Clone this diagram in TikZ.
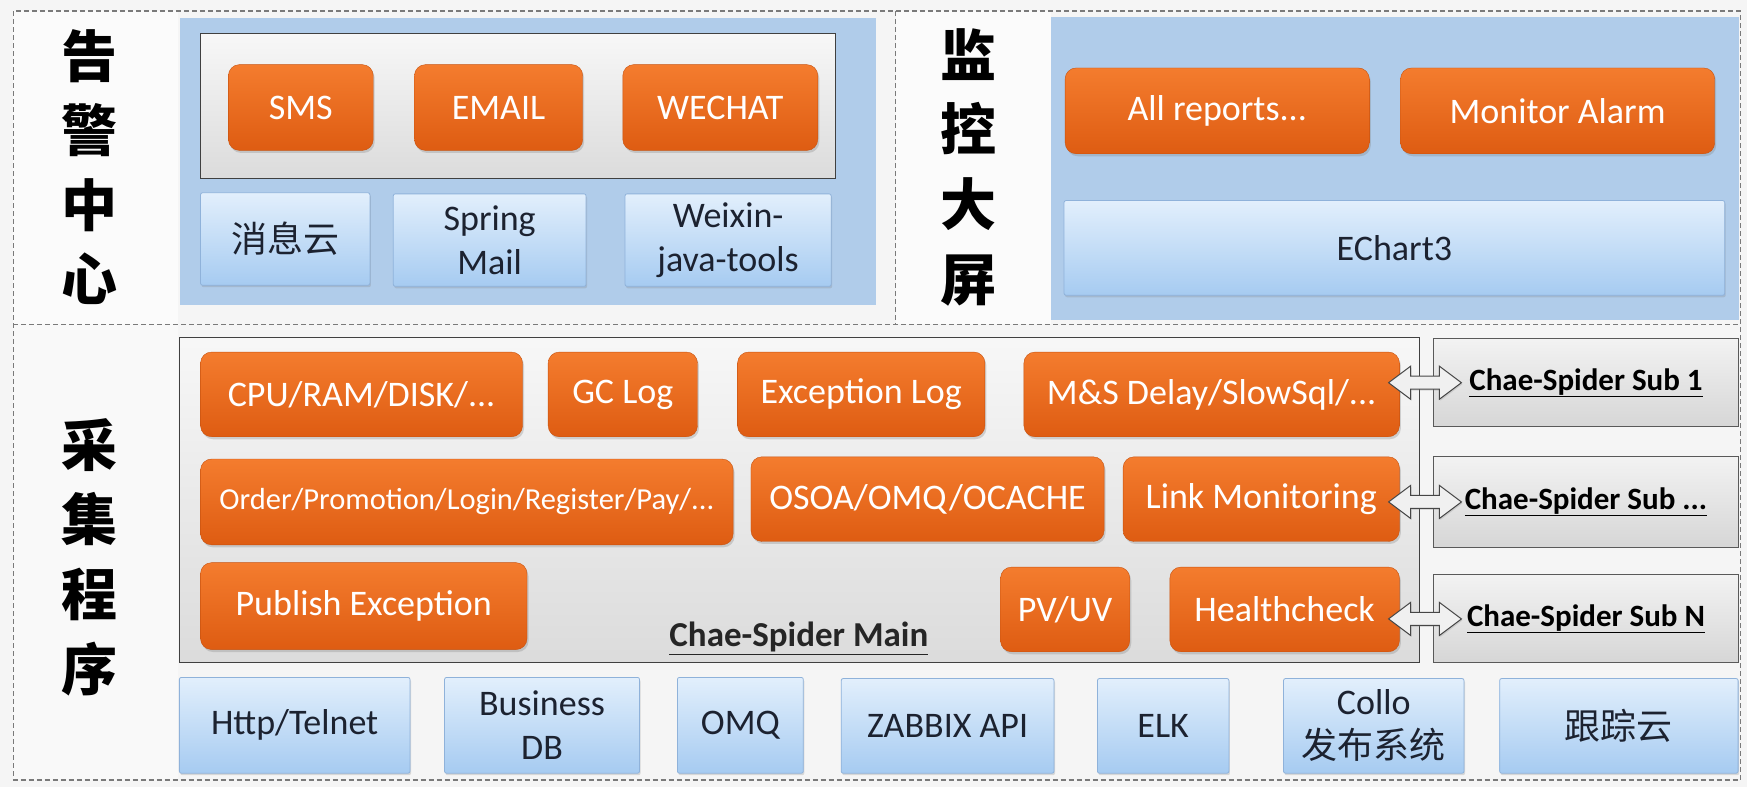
\documentclass[tikz,border=0pt]{standalone}
\usepackage{fontspec}
\setmainfont{Carlito}
\newfontfamily\cjk{Noto Sans CJK SC}
\usetikzlibrary{shadows,calc}
\definecolor{bg}{HTML}{F5F5F5}
\definecolor{panelblue}{HTML}{B0CCEA}
\definecolor{orangetop}{HTML}{F47C2E}
\definecolor{orangebot}{HTML}{DE5C12}
\definecolor{lbtop}{HTML}{E2EFFC}
\definecolor{lbbot}{HTML}{A6CBF1}
\definecolor{lbdraw}{HTML}{8FB2DA}
\definecolor{navy}{HTML}{1C2230}
\definecolor{dashgray}{HTML}{7A7A7A}
\newcommand\bx[7]{\node[#1, minimum width={(#5-#3)*1.1142pt}, minimum height={(#6-#4)*1.1142pt}] (#2) at ({(#3+#5)/2},{(#4+#6)/2}) {#7};}
% hollow double arrow between two named coordinates (horizontal)
\newcommand\dblarr[2]{%
  \draw[arrowbody] (#1) -- ($(#1)+(22pt,16.5pt)$) -- ($(#1)+(22pt,6.5pt)$)
    -- ($(#2)+(-22pt,6.5pt)$) -- ($(#2)+(-22pt,16.5pt)$) -- (#2)
    -- ($(#2)+(-22pt,-16.5pt)$) -- ($(#2)+(-22pt,-6.5pt)$)
    -- ($(#1)+(22pt,-6.5pt)$) -- ($(#1)+(22pt,-16.5pt)$) -- cycle;}
\begin{document}
\begin{tikzpicture}[x=1.1142pt,y=-1.1142pt,
  every node/.style={inner sep=1pt, align=center},
  panel/.style={fill=panelblue, draw=none},
  graybox/.style={top color=gray!6, bottom color=gray!28, draw=black!75, line width=1pt},
  subbox/.style={top color=gray!10, bottom color=gray!32, draw=black!65, line width=1pt,
    font=\bfseries\fontsize{31}{36}\selectfont, text=black},
  obox/.style={top color=orangetop, bottom color=orangebot, draw=orangebot!90!black, line width=0.4pt,
    rounded corners=11pt, text=white, font=\fontsize{36}{42}\selectfont,
    drop shadow={shadow xshift=1.5pt, shadow yshift=-2.5pt, opacity=0.3}},
  lbox/.style={top color=lbtop, bottom color=lbbot, draw=lbdraw, line width=0.8pt,
    rounded corners=2pt, text=navy, font=\fontsize{36}{44}\selectfont,
    drop shadow={shadow xshift=1pt, shadow yshift=-2pt, opacity=0.25}},
  title/.style={font=\cjk\bfseries\fontsize{56}{74.6}\selectfont, text=black},
  dashframe/.style={draw=dashgray, line width=1.3pt, dash pattern=on 5pt off 3pt},
  arrowbody/.style={draw=gray!55!black, line width=1pt, fill=gray!12,
    drop shadow={shadow xshift=1pt, shadow yshift=-1.5pt, opacity=0.25}}
]
\useasboundingbox (0,0) rectangle (1568,706);
\fill[bg] (0,0) rectangle (1568,706);
\fill[white!60!bg] (12,10) rectangle (160,291);
\fill[white!60!bg] (804,10) rectangle (943,291);
\fill[white!40!bg] (12,291) rectangle (160,700);

% frame
\draw[dashframe] (12,10) rectangle (1562,700);
\draw[dashframe] (12,291) -- (1562,291);
\draw[dashframe] (804,10) -- (804,291);

% ---- alarm centre
\bx{panel}{p1}{162}{16}{786}{274}{}
\bx{graybox}{g1}{180}{30}{750}{160}{}
\bx{obox}{sms}{205}{58}{335}{135}{SMS}
\bx{obox}{email}{372}{58}{523}{135}{EMAIL}
\bx{obox}{wechat}{559}{58}{734}{135}{WECHAT}
\bx{lbox}{xxy}{180}{173}{332}{256}{\cjk 消息云}
\bx{lbox}{spring}{353}{174}{526}{257}{Spring\\Mail}
\bx{lbox}{weixin}{561}{174}{746}{257}{Weixin-\\java-tools}
\node[title] (t1) at (80,150) {告\\警\\中\\心};

% ---- big screen
\bx{panel}{p2}{943}{15}{1561}{287}{}
\bx{obox}{reports}{956}{61}{1229}{138}{All reports...}
\bx{obox}{alarm}{1257}{61}{1539}{138}{Monitor Alarm}
\bx{lbox}{echart}{955}{180}{1548}{265}{EChart3}
\node[title] (t2) at (869,150) {监\\控\\大\\屏};

% ---- collector
\node[title] (t3) at (80,500) {采\\集\\程\\序};
\bx{graybox}{main}{161}{303}{1274}{595}{}
\bx{obox}{cpu}{180}{316}{469}{392}{CPU/RAM/DISK/...}
\bx{obox}{gc}{492}{316}{626}{392}{GC Log}
\bx{obox}{exc}{662}{316}{884}{392}{Exception Log}
\bx{obox}{msd}{919}{316}{1256}{392}{M\&S Delay/SlowSql/...}
\bx{obox, font=\fontsize{30.5}{36}\selectfont}{order}{180}{412}{658}{489}{Order/Promotion/Login/Register/Pay/...}
\bx{obox}{osoa}{674}{410}{991}{486}{OSOA/OMQ/OCACHE}
\bx{obox}{link}{1008}{410}{1256}{486}{Link Monitoring}
\bx{obox}{publish}{180}{505}{473}{583}{Publish Exception}
\bx{obox}{pvuv}{898}{509}{1014}{585}{PV/UV}
\bx{obox}{health}{1050}{509}{1256}{585}{Healthcheck}
\node[font=\bfseries\fontsize{35}{40}\selectfont, text=black!85] (mainlbl) at (717,573) {\underline{Chae-Spider Main}};

\bx{subbox}{sub1}{1287}{304}{1560}{383}{\underline{Chae-Spider Sub 1}}
\bx{subbox}{sub2}{1287}{410}{1560}{491}{\underline{Chae-Spider Sub ...}}
\bx{subbox}{subn}{1287}{516}{1560}{595}{\underline{Chae-Spider Sub N}}

\coordinate (a1) at ($(sub1.west -| msd.east)+(-11pt,0)$);
\coordinate (b1) at ($(sub1.west)+(28pt,0)$);
\coordinate (a2) at ($(sub2.west -| link.east)+(-11pt,0)$);
\coordinate (b2) at ($(sub2.west)+(28pt,0)$);
\coordinate (a3) at ($(subn.west -| health.east)+(-11pt,0)$);
\coordinate (b3) at ($(subn.west)+(28pt,0)$);
\dblarr{a1}{b1}
\dblarr{a2}{b2}
\dblarr{a3}{b3}

\bx{lbox}{http}{161}{608}{368}{694}{Http/Telnet}
\bx{lbox}{bdb}{399}{608}{574}{694}{Business\\DB}
\bx{lbox}{omq}{608}{608}{721}{694}{OMQ}
\bx{lbox}{zabbix}{755}{609}{946}{694}{ZABBIX API}
\bx{lbox}{elk}{985}{609}{1103}{694}{ELK}
\bx{lbox}{collo}{1152}{609}{1314}{694}{Collo\\{\cjk 发布系统}}
\bx{lbox}{trace}{1346}{609}{1560}{694}{\cjk 跟踪云}
\end{tikzpicture}
\end{document}
